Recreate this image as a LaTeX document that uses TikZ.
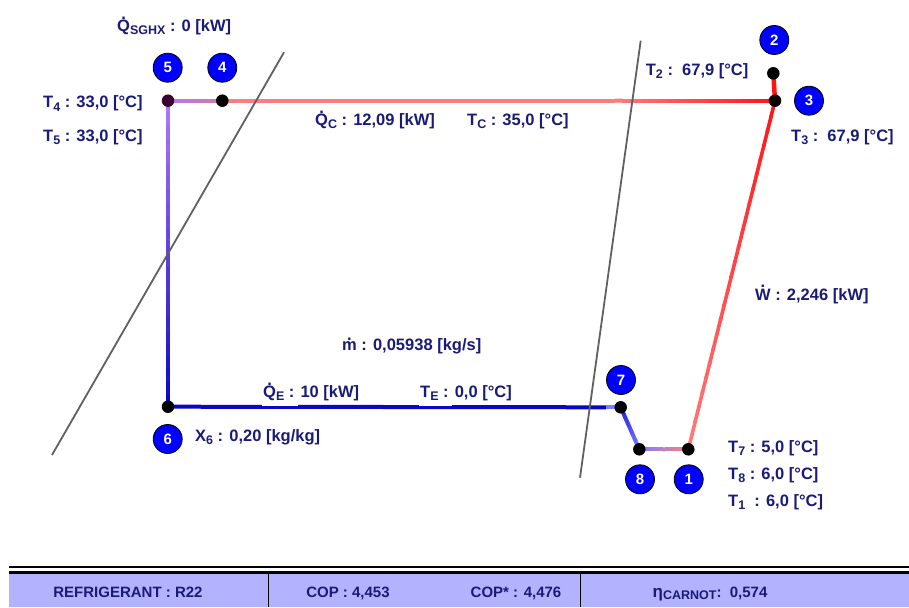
\documentclass[tikz,border=0pt]{standalone}
\usepackage{fontspec}
\setmainfont{Liberation Sans}
\usetikzlibrary{calc}
\definecolor{navy}{HTML}{1A1A78}
\definecolor{cpurp}{HTML}{B478FA}
\definecolor{cmauve}{HTML}{D8789C}
\definecolor{csalm}{HTML}{FF7C7C}
\definecolor{cred}{HTML}{FF1414}
\definecolor{clblue}{HTML}{7C7CFF}
\definecolor{cblue}{HTML}{1C1CDC}
\definecolor{cdblue}{HTML}{0808C4}
\definecolor{cmid}{HTML}{C080C0}
\definecolor{cbar}{HTML}{B2B2FF}
\definecolor{cgrey}{HTML}{606060}
\definecolor{cdot5}{HTML}{3A0030}
\newcommand\dotacc[2]{\leavevmode\ooalign{#2\cr\hidewidth\raisebox{#1}{.}\hidewidth\cr}}
\newcommand\sbs[1]{\raisebox{-3.2pt}{\fontsize{12.5}{13}\selectfont #1}}
\newcommand\grad[5]{%
  \foreach \gi in {0,...,23}{%
    \pgfmathsetmacro\ga{\gi/24}%
    \pgfmathsetmacro\gb{min(1,(\gi+1.15)/24)}%
    \pgfmathsetmacro\gp{100*(1-(\gi+0.5)/24)}%
    \draw[line width=#5, #3!\gp!#4] ($(#1)!\ga!(#2)$) -- ($(#1)!\gb!(#2)$);}}
\tikzset{
  lbl/.style={anchor=base west, inner sep=0pt, text=navy},
  numc/.style={circle, fill=blue, draw=black, line width=0.8pt, minimum size=29pt, inner sep=0pt, text=white, font=\bfseries\fontsize{15}{15}\selectfont},
  pdot/.style={circle, fill=black, minimum size=12.5pt, inner sep=0pt},
  greyline/.style={cgrey, line width=1.8pt},
  barlbl/.style={anchor=base, inner sep=0pt, text=navy, font=\bfseries\fontsize{15}{16}\selectfont}
}
\begin{document}
\begin{tikzpicture}[x=1pt,y=-1pt, font=\bfseries\fontsize{16.5}{18}\selectfont]
\useasboundingbox (0,0) rectangle (909,607);
% state points
\coordinate (p1) at (688.3,449.3);
\coordinate (p2) at (773.3,73.3);
\coordinate (p3) at (775,100.7);
\coordinate (p4) at (222.3,100.7);
\coordinate (p5) at (168,100.7);
\coordinate (p6) at (168,406.7);
\coordinate (p7) at (620.7,407.3);
\coordinate (p8) at (639.3,449.3);
\coordinate (m43) at (615,100.7);
\coordinate (m18) at (664,449.3);
\coordinate (m76) at (606,407.3);
% cycle lines
\grad{p6}{p5}{cdblue}{cpurp}{4pt}
\grad{p5}{p4}{cpurp}{cmauve}{4pt}
\draw[line width=4pt, csalm] (p4) -- (m43);
\grad{m43}{p3}{csalm}{cred}{4pt}
\draw[line width=4.5pt, cred] (p3) -- (p2);
\grad{p3}{p1}{cred}{csalm}{3.6pt}
\grad{p1}{m18}{csalm}{cmid}{4pt}
\grad{m18}{p8}{cmid}{clblue}{4pt}
\grad{p8}{p7}{clblue}{cblue}{4pt}
\draw[line width=4pt, cdblue] (p6) -- (m76);
\draw[line width=4pt, clblue] (m76) -- (p7);
% white gaps under evaporator labels
\fill[white] (262,403) rectangle (298,405.8);
\fill[white] (419,403) rectangle (452,405.8);
% grey saturation lines
\coordinate (g1a) at (284,52.3);
\coordinate (g1b) at (52,455);
\coordinate (g2a) at (640.7,40.7);
\coordinate (g2b) at (580,477.7);
\draw[greyline] (g1a) -- (g1b);
\draw[greyline] (g2a) -- (g2b);
% dots
\foreach \p in {p1,p2,p3,p4,p6,p7,p8} \node[pdot] (d\p) at (\p) {};
\node[pdot, fill=cdot5] (dp5) at (p5) {};
% number circles
\node[numc] (n5) at (167.7,67.7) {5};
\node[numc] (n4) at (222.3,67.7) {4};
\node[numc] (n2) at (774.3,40) {2};
\node[numc] (n3) at (809,100.7) {3};
\node[numc] (n7) at (621,380) {7};
\node[numc] (n8) at (640,479.3) {8};
\node[numc] (n1) at (688.7,479.3) {1};
\node[numc] (n6) at (167.7,439) {6};
% labels
\node[lbl] (lsg) at (117,31.5) {\dotacc{0.74em}{Q}\sbs{SGHX} : 0 [kW]};
\node[lbl] (lt4) at (43,108) {T\sbs{4} : 33,0 [°C]};
\node[lbl] (lt5) at (43,141) {T\sbs{5} : 33,0 [°C]};
\node[lbl] (lqc) at (315,125.3) {\dotacc{0.74em}{Q}\sbs{C} : 12,09 [kW]};
\node[lbl] (ltc) at (467,125.3) {T\sbs{C} : 35,0 [°C]};
\node[lbl] (lt2) at (645.7,75.7) {T\sbs{2} :\ \ 67,9 [°C]};
\node[lbl] (lt3) at (791,141.7) {T\sbs{3} :\ \ 67,9 [°C]};
\node[lbl] (lw) at (755,300) {\dotacc{0.74em}{W} : 2,246 [kW]};
\node[lbl] (lm) at (342,350) {\dotacc{0.57em}{m} : 0,05938 [kg/s]};
\node[lbl] (lqe) at (263,397.7) {\dotacc{0.74em}{Q}\sbs{E} : 10 [kW]};
\node[lbl] (lte) at (420,397.7) {T\sbs{E} : 0,0 [°C]};
\node[lbl] (lx6) at (195,441.7) {X\sbs{6} : 0,20 [kg/kg]};
\node[lbl] (lt7) at (728,452.7) {T\sbs{7} : 5,0 [°C]};
\node[lbl] (lt8) at (728,479.3) {T\sbs{8} : 6,0 [°C]};
\node[lbl] (lt1) at (728,506) {T\sbs{1}\ \ : 6,0 [°C]};
% bottom bar
\fill[cbar] (9,574) rectangle (909,607);
\draw[line width=2.2pt] (9,566.8) -- (909,566.8);
\draw[line width=2.2pt] (9,572.4) -- (909,572.4);
\draw[line width=1pt] (268,573) -- (268,607);
\draw[line width=1pt] (580,573) -- (580,607);
\node[barlbl] (bref) at (128,597.5) {REFRIGERANT :\ R22};
\node[barlbl] (bcop) at (348,597.5) {COP : 4,453};
\node[barlbl] (bcops) at (516,597.5) {COP* : 4,476};
\node[barlbl] (beta) at (710,597.5) {{\fontsize{17}{17}\selectfont η}\raisebox{-2pt}{\fontsize{12.5}{12}\selectfont CARNOT}:\ \ 0,574};
\end{tikzpicture}
\end{document}
